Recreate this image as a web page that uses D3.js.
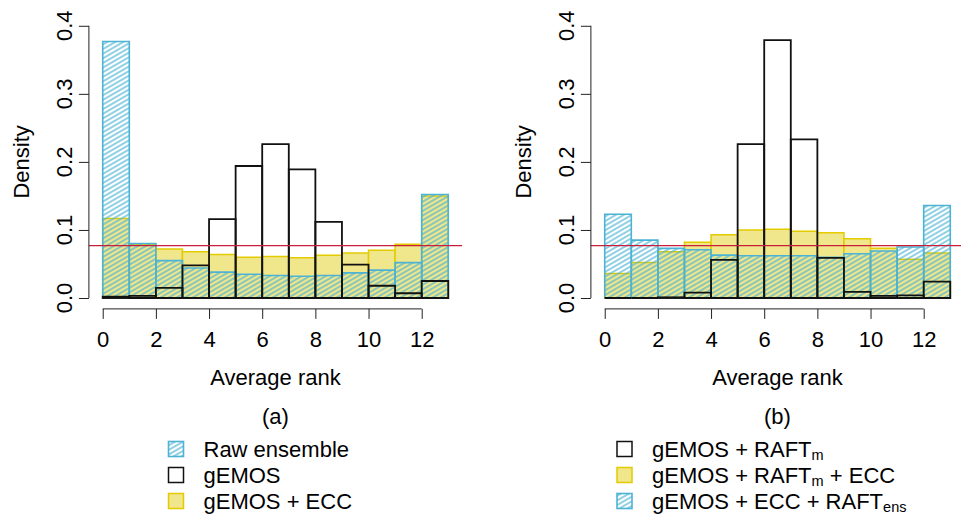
<!DOCTYPE html>
<html>
<head>
<meta charset="utf-8">
<script src="https://cdn.jsdelivr.net/npm/d3@7"></script>
<style>
  html, body { margin: 0; padding: 0; background: #fff; }
  svg { display: block; font-family: "Liberation Sans", Arial, Helvetica, sans-serif; }
</style>
</head>
<body>
<svg id="chart" width="961" height="514"></svg>
<script>
// Rank histograms: 13 bins of the average rank, densities per bin
const bins = [0, 1, 2, 3, 4, 5, 6, 7, 8, 9, 10, 11, 12];
const xTicks = [0, 2, 4, 6, 8, 10, 12];
const yTicks = [0.0, 0.1, 0.2, 0.3, 0.4];
const yTickLabels = ["0.0", "0.1", "0.2", "0.3", "0.4"];
const uniformLevel = 1 / 13;

// Panel (a)
const rawEnsemble = [0.377, 0.080, 0.055, 0.044, 0.038, 0.035, 0.033, 0.032, 0.033, 0.037, 0.041, 0.052, 0.152];
const gemos       = [0.002, 0.003, 0.015, 0.048, 0.116, 0.194, 0.226, 0.189, 0.112, 0.049, 0.018, 0.007, 0.025];
const gemosEcc    = [0.117, 0.079, 0.072, 0.068, 0.064, 0.060, 0.061, 0.059, 0.063, 0.066, 0.070, 0.079, 0.150];

// Panel (b)
const gemosRaftM    = [0.000, 0.000, 0.001, 0.008, 0.056, 0.226, 0.379, 0.233, 0.059, 0.009, 0.003, 0.004, 0.024];
const gemosRaftMEcc = [0.036, 0.052, 0.068, 0.082, 0.093, 0.100, 0.101, 0.098, 0.096, 0.087, 0.073, 0.057, 0.066];
const gemosEccRaftE = [0.123, 0.085, 0.073, 0.071, 0.063, 0.062, 0.062, 0.062, 0.060, 0.065, 0.069, 0.075, 0.136];

const BLUE = "#4DB3D4", YELLOW_FILL = "#F0E68C", YELLOW_LINE = "#E3CB00", BLACK = "#111111", RED = "#C81E3C";
const FONT = 22;

const svg = d3.select("#chart");

// diagonal hatching used by the blue series
const defs = svg.append("defs");
defs.append("pattern")
  .attr("id", "hatch")
  .attr("patternUnits", "userSpaceOnUse")
  .attr("width", 12).attr("height", 4)
  .attr("patternTransform", "rotate(-30)")
  .append("line")
  .attr("x1", 0).attr("x2", 12).attr("y1", 2).attr("y2", 2)
  .attr("stroke", BLUE).attr("stroke-width", 1.25);

const y = d3.scaleLinear().domain([-0.016, 0.416]).range([308.9, 14.9]);

function panel(offsetX, layers, tag, legendItems, legendX) {
  const x = d3.scaleLinear().domain([-0.52, 13.52]).range([88.9 + offsetX, 462.1 + offsetX]);
  const g = svg.append("g");

  // bars as closed paths so that empty bins still show their outline
  const barPath = (d, i) => {
    const x0 = x(bins[i]), x1 = x(bins[i] + 1), y0 = y(0), y1 = y(d);
    return `M${x0},${y0}V${y1}H${x1}V${y0}Z`;
  };
  layers.forEach(layer => {
    g.append("g").selectAll("path").data(layer.values).join("path")
      .attr("d", barPath)
      .attr("fill", layer.fill)
      .attr("stroke", layer.stroke)
      .attr("stroke-width", layer.width);
  });

  // reference level of a flat histogram
  g.append("line")
    .attr("x1", x.range()[0]).attr("x2", x.range()[1])
    .attr("y1", y(uniformLevel)).attr("y2", y(uniformLevel))
    .attr("stroke", RED).attr("stroke-width", 1.3);

  // x axis
  const xa = g.append("g").attr("transform", `translate(0,${y.range()[0]})`)
    .call(d3.axisBottom(x).tickValues(xTicks).tickFormat(d3.format("d")).tickSize(10).tickPadding(12));
  xa.select(".domain").attr("d", `M${x(xTicks[0])},0H${x(xTicks[xTicks.length - 1])}`);
  xa.selectAll("line, path").attr("stroke", "#222");
  xa.selectAll("text").attr("font-size", FONT).attr("fill", "#000").attr("font-family", null);

  // y axis with labels parallel to the axis
  const ya = g.append("g").attr("transform", `translate(${x.range()[0]},0)`)
    .call(d3.axisLeft(y).tickValues(yTicks).tickFormat("").tickSize(10));
  ya.select(".domain").attr("d", `M0,${y(yTicks[0])}V${y(yTicks[yTicks.length - 1])}`);
  ya.selectAll("line, path").attr("stroke", "#222");
  g.append("g").selectAll("text").data(yTicks).join("text")
    .attr("transform", (d) => `translate(${x.range()[0] - 17},${y(d)}) rotate(-90)`)
    .attr("text-anchor", "middle")
    .attr("font-size", FONT)
    .text((d, i) => yTickLabels[i]);

  const cx = (x.range()[0] + x.range()[1]) / 2;
  g.append("text")
    .attr("transform", `translate(${29 + offsetX},${(y(0) + y(0.4)) / 2}) rotate(-90)`)
    .attr("text-anchor", "middle").attr("font-size", FONT).text("Density");
  g.append("text").attr("x", cx).attr("y", 385)
    .attr("text-anchor", "middle").attr("font-size", FONT).text("Average rank");
  g.append("text").attr("x", cx).attr("y", 424)
    .attr("text-anchor", "middle").attr("font-size", FONT).text(tag);

  // legend
  const lg = g.append("g");
  legendItems.forEach((item, i) => {
    const cy = 449 + i * 26;
    lg.append("rect")
      .attr("x", legendX).attr("y", cy - 7.5).attr("width", 15).attr("height", 15)
      .attr("fill", item.fill).attr("stroke", item.stroke).attr("stroke-width", item.width);
    const t = lg.append("text").attr("x", legendX + 35).attr("y", cy + 7.5).attr("font-size", FONT);
    let shift = 0;
    item.label.forEach(part => {
      const target = part.sub ? 3.5 : 0;
      const s = t.append("tspan").attr("dy", target - shift).text(part.text);
      if (part.sub) s.attr("font-size", 14.5);
      shift = target;
    });
  });
}

const yellowLayer = v => ({ values: v, fill: YELLOW_FILL, stroke: YELLOW_LINE, width: 1.5 });
const blueLayer = v => ({ values: v, fill: "url(#hatch)", stroke: BLUE, width: 1.6 });
const blackLayer = v => ({ values: v, fill: "none", stroke: BLACK, width: 1.8 });

panel(0, [yellowLayer(gemosEcc), blueLayer(rawEnsemble), blackLayer(gemos)], "(a)", [
  { fill: "url(#hatch)", stroke: BLUE, width: 1.6, label: [{ text: "Raw ensemble" }] },
  { fill: "none", stroke: BLACK, width: 1.5, label: [{ text: "gEMOS" }] },
  { fill: YELLOW_FILL, stroke: YELLOW_LINE, width: 1.5, label: [{ text: "gEMOS + ECC" }] }
], 168.5);

panel(502, [yellowLayer(gemosRaftMEcc), blueLayer(gemosEccRaftE), blackLayer(gemosRaftM)], "(b)", [
  { fill: "none", stroke: BLACK, width: 1.5, label: [{ text: "gEMOS + RAFT" }, { text: "m", sub: true }] },
  { fill: YELLOW_FILL, stroke: YELLOW_LINE, width: 1.5, label: [{ text: "gEMOS + RAFT" }, { text: "m", sub: true }, { text: " + ECC" }] },
  { fill: "url(#hatch)", stroke: BLUE, width: 1.6, label: [{ text: "gEMOS + ECC + RAFT" }, { text: "ens", sub: true }] }
], 617);
</script>
</body>
</html>
